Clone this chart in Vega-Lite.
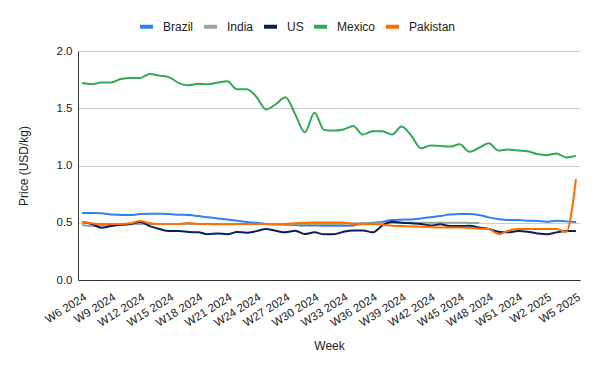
{
  "$schema": "https://vega.github.io/schema/vega-lite/v6.json",
  "width": 502,
  "height": 229,
  "autosize": {"type": "none"},
  "padding": {"left": 78, "top": 51, "right": 20, "bottom": 91},
  "background": "white",
  "config": {"font": "Liberation Sans", "view": {"stroke": null}},
  "data": {"values": [
    {"week": "W6 2024", "Brazil": 0.585, "India": 0.48, "US": 0.506, "Mexico": 1.72, "Pakistan": 0.506},
    {"week": "W7 2024", "Brazil": 0.585, "India": 0.471, "US": 0.489, "Mexico": 1.71, "Pakistan": 0.495},
    {"week": "W8 2024", "Brazil": 0.582, "India": 0.475, "US": 0.456, "Mexico": 1.725, "Pakistan": 0.489},
    {"week": "W9 2024", "Brazil": 0.573, "India": 0.48, "US": 0.471, "Mexico": 1.725, "Pakistan": 0.489},
    {"week": "W10 2024", "Brazil": 0.567, "India": 0.483, "US": 0.483, "Mexico": 1.755, "Pakistan": 0.489},
    {"week": "W11 2024", "Brazil": 0.567, "India": 0.486, "US": 0.489, "Mexico": 1.765, "Pakistan": 0.495},
    {"week": "W12 2024", "Brazil": 0.576, "India": 0.49, "US": 0.506, "Mexico": 1.765, "Pakistan": 0.515},
    {"week": "W13 2024", "Brazil": 0.579, "India": 0.49, "US": 0.471, "Mexico": 1.8, "Pakistan": 0.495},
    {"week": "W14 2024", "Brazil": 0.579, "India": 0.488, "US": 0.445, "Mexico": 1.785, "Pakistan": 0.489},
    {"week": "W15 2024", "Brazil": 0.576, "India": 0.488, "US": 0.427, "Mexico": 1.77, "Pakistan": 0.489},
    {"week": "W16 2024", "Brazil": 0.57, "India": 0.488, "US": 0.427, "Mexico": 1.72, "Pakistan": 0.489},
    {"week": "W17 2024", "Brazil": 0.567, "India": 0.488, "US": 0.419, "Mexico": 1.7, "Pakistan": 0.497},
    {"week": "W18 2024", "Brazil": 0.558, "India": 0.488, "US": 0.416, "Mexico": 1.715, "Pakistan": 0.489},
    {"week": "W19 2024", "Brazil": 0.547, "India": 0.488, "US": 0.399, "Mexico": 1.71, "Pakistan": 0.489},
    {"week": "W20 2024", "Brazil": 0.538, "India": 0.488, "US": 0.407, "Mexico": 1.725, "Pakistan": 0.486},
    {"week": "W21 2024", "Brazil": 0.529, "India": 0.488, "US": 0.399, "Mexico": 1.735, "Pakistan": 0.486},
    {"week": "W22 2024", "Brazil": 0.518, "India": 0.488, "US": 0.419, "Mexico": 1.665, "Pakistan": 0.489},
    {"week": "W23 2024", "Brazil": 0.506, "India": 0.488, "US": 0.413, "Mexico": 1.665, "Pakistan": 0.489},
    {"week": "W24 2024", "Brazil": 0.5, "India": 0.49, "US": 0.427, "Mexico": 1.6, "Pakistan": 0.489},
    {"week": "W25 2024", "Brazil": 0.489, "India": 0.49, "US": 0.445, "Mexico": 1.49, "Pakistan": 0.489},
    {"week": "W26 2024", "Brazil": 0.486, "India": 0.49, "US": 0.43, "Mexico": 1.535, "Pakistan": 0.486},
    {"week": "W27 2024", "Brazil": 0.483, "India": 0.49, "US": 0.416, "Mexico": 1.595, "Pakistan": 0.489},
    {"week": "W28 2024", "Brazil": 0.48, "India": 0.49, "US": 0.43, "Mexico": 1.45, "Pakistan": 0.495},
    {"week": "W29 2024", "Brazil": 0.477, "India": 0.49, "US": 0.401, "Mexico": 1.29, "Pakistan": 0.5},
    {"week": "W30 2024", "Brazil": 0.477, "India": 0.49, "US": 0.416, "Mexico": 1.46, "Pakistan": 0.503},
    {"week": "W31 2024", "Brazil": 0.474, "India": 0.49, "US": 0.399, "Mexico": 1.31, "Pakistan": 0.503},
    {"week": "W32 2024", "Brazil": 0.474, "India": 0.49, "US": 0.399, "Mexico": 1.305, "Pakistan": 0.503},
    {"week": "W33 2024", "Brazil": 0.474, "India": 0.49, "US": 0.422, "Mexico": 1.315, "Pakistan": 0.503},
    {"week": "W34 2024", "Brazil": 0.477, "India": 0.495, "US": 0.433, "Mexico": 1.345, "Pakistan": 0.489},
    {"week": "W35 2024", "Brazil": 0.495, "India": 0.495, "US": 0.433, "Mexico": 1.27, "Pakistan": 0.486},
    {"week": "W36 2024", "Brazil": 0.5, "India": 0.495, "US": 0.416, "Mexico": 1.3, "Pakistan": 0.489},
    {"week": "W37 2024", "Brazil": 0.506, "India": 0.495, "US": 0.475, "Mexico": 1.3, "Pakistan": 0.483},
    {"week": "W38 2024", "Brazil": 0.524, "India": 0.498, "US": 0.509, "Mexico": 1.27, "Pakistan": 0.474},
    {"week": "W39 2024", "Brazil": 0.527, "India": 0.5, "US": 0.5, "Mexico": 1.34, "Pakistan": 0.471},
    {"week": "W40 2024", "Brazil": 0.529, "India": 0.5, "US": 0.495, "Mexico": 1.26, "Pakistan": 0.468},
    {"week": "W41 2024", "Brazil": 0.538, "India": 0.5, "US": 0.489, "Mexico": 1.15, "Pakistan": 0.465},
    {"week": "W42 2024", "Brazil": 0.547, "India": 0.5, "US": 0.477, "Mexico": 1.175, "Pakistan": 0.462},
    {"week": "W43 2024", "Brazil": 0.558, "India": 0.5, "US": 0.486, "Mexico": 1.17, "Pakistan": 0.459},
    {"week": "W44 2024", "Brazil": 0.573, "India": 0.5, "US": 0.471, "Mexico": 1.165, "Pakistan": 0.459},
    {"week": "W45 2024", "Brazil": 0.576, "India": 0.5, "US": 0.471, "Mexico": 1.185, "Pakistan": 0.459},
    {"week": "W46 2024", "Brazil": 0.576, "India": 0.498, "US": 0.474, "Mexico": 1.12, "Pakistan": 0.454},
    {"week": "W47 2024", "Brazil": 0.567, "India": 0.497, "US": 0.459, "Mexico": 1.155, "Pakistan": 0.448},
    {"week": "W48 2024", "Brazil": 0.547, "US": 0.445, "Mexico": 1.195, "Pakistan": 0.445},
    {"week": "W49 2024", "Brazil": 0.532, "US": 0.422, "Mexico": 1.13, "Pakistan": 0.401},
    {"week": "W50 2024", "Brazil": 0.524, "US": 0.416, "Mexico": 1.14, "Pakistan": 0.43},
    {"week": "W51 2024", "Brazil": 0.524, "US": 0.427, "Mexico": 1.13, "Pakistan": 0.445},
    {"week": "W52 2024", "Brazil": 0.518, "US": 0.422, "Mexico": 1.125, "Pakistan": 0.445},
    {"week": "W1 2025", "Brazil": 0.515, "US": 0.407, "Mexico": 1.1, "Pakistan": 0.445},
    {"week": "W2 2025", "Brazil": 0.509, "US": 0.399, "Mexico": 1.09, "Pakistan": 0.445},
    {"week": "W3 2025", "Brazil": 0.518, "US": 0.416, "Mexico": 1.105, "Pakistan": 0.445},
    {"week": "W4 2025", "Brazil": 0.512, "US": 0.427, "Mexico": 1.07, "Pakistan": 0.42},
    {"week": "W5 2025", "Brazil": 0.506, "US": 0.427, "Mexico": 1.085, "Pakistan": 0.88}
  ]},
  "transform": [
    {"fold": ["Brazil", "India", "US", "Mexico", "Pakistan"], "as": ["country", "price"]}
  ],
  "mark": {"type": "line", "interpolate": "monotone", "strokeWidth": 2},
  "encoding": {
    "x": {
      "field": "week",
      "type": "ordinal",
      "sort": null,
      "scale": {"type": "point", "padding": 0.42},
      "axis": {
        "values": ["W6 2024", "W9 2024", "W12 2024", "W15 2024", "W18 2024", "W21 2024", "W24 2024", "W27 2024", "W30 2024", "W33 2024", "W36 2024", "W39 2024", "W42 2024", "W45 2024", "W48 2024", "W51 2024", "W2 2025", "W5 2025"],
        "labelAngle": -32,
        "labelAlign": "right",
        "labelBaseline": "top",
        "labelPadding": 11,
        "labelDx": 5,
        "labelDy": 3,
        "labelFontSize": 11.5,
        "labelColor": "#222222",
        "ticks": false,
        "grid": false,
        "domainColor": "#333333",
        "domainWidth": 1,
        "title": "Week",
        "titleFontSize": 12,
        "titleFontWeight": "normal",
        "titleColor": "#222222",
        "titlePadding": 12
      }
    },
    "y": {
      "field": "price",
      "type": "quantitative",
      "scale": {"domain": [0, 2], "nice": false, "zero": true},
      "axis": {
        "values": [0, 0.5, 1, 1.5, 2],
        "format": ".1f",
        "grid": true,
        "gridColor": "#cccccc",
        "ticks": false,
        "domainColor": "#333333",
        "labelFontSize": 11.5,
        "labelColor": "#222222",
        "labelPadding": 6,
        "title": "Price (USD/kg)",
        "titleFontSize": 12,
        "titleFontWeight": "normal",
        "titleColor": "#222222",
        "titlePadding": 26
      }
    },
    "color": {
      "field": "country",
      "type": "nominal",
      "sort": ["Brazil", "India", "US", "Mexico", "Pakistan"],
      "scale": {
        "domain": ["Brazil", "India", "US", "Mexico", "Pakistan"],
        "range": ["#2f80f0", "#9aa69b", "#0c1f55", "#34a853", "#ff6d01"]
      },
      "legend": {
        "orient": "none",
        "legendX": 60,
        "legendY": -33,
        "direction": "horizontal",
        "title": null,
        "symbolType": "stroke",
        "symbolStrokeWidth": 4,
        "symbolSize": 169,
        "labelFontSize": 12,
        "labelColor": "#222222",
        "labelOffset": 8,
        "columnPadding": 2
      }
    }
  }
}
